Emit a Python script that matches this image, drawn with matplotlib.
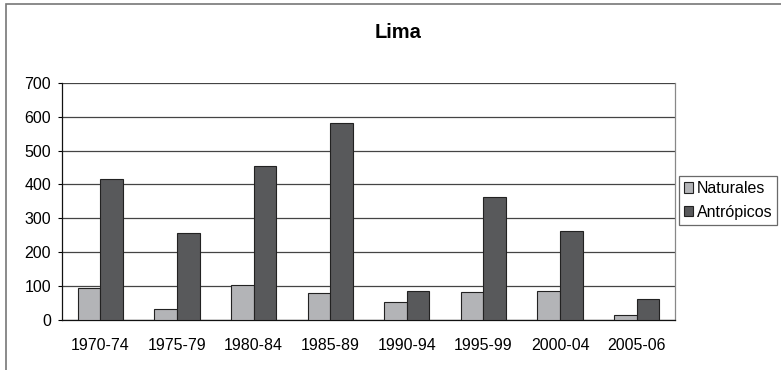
import matplotlib
matplotlib.use("Agg")
import matplotlib.pyplot as plt
from matplotlib.patches import Rectangle
import numpy as np

plt.rcParams['font.family'] = ['Liberation Sans', 'DejaVu Sans']

categories = ["1970-74", "1975-79", "1980-84", "1985-89", "1990-94", "1995-99", "2000-04", "2005-06"]
naturales = [94, 31, 102, 80, 54, 84, 87, 15]
antropicos = [415, 257, 453, 581, 87, 363, 264, 61]
yticks = [0, 100, 200, 300, 400, 500, 600, 700]
title = "Lima"
series_names = ["Naturales", "Antrópicos"]

fig = plt.figure(figsize=(7.81, 3.70), dpi=100)
ax = fig.add_axes([62/781, 50/370, (675-62)/781, (320-82.7)/370])

x = np.arange(len(categories))
w = 0.295
ax.bar(x - w/2, naturales, w, color='#b3b4b7', edgecolor='#222222', linewidth=0.8,
       label=series_names[0], zorder=3)
ax.bar(x + w/2, antropicos, w, color='#58595b', edgecolor='#222222', linewidth=0.8,
       label=series_names[1], zorder=3)

ax.set_xlim(-0.5, len(categories) - 0.5)
ax.set_ylim(0, 700)
ax.set_yticks(yticks)
ax.set_xticks(x)
ax.set_xticklabels(categories)
ax.tick_params(axis='y', length=3, width=0.8, pad=5, labelsize=11.5)
ax.tick_params(axis='x', length=0, pad=13, labelsize=11.5)
ax.yaxis.grid(True, color='#444444', linewidth=0.9, zorder=0)
ax.set_axisbelow(True)
ax.spines['top'].set_visible(False)
ax.spines['right'].set_color('#888888')
ax.spines['right'].set_linewidth(0.9)
ax.spines['left'].set_color('#111111')
ax.spines['left'].set_linewidth(0.9)
ax.spines['bottom'].set_color('#111111')
ax.spines['bottom'].set_linewidth(0.9)

fig.text(398/781, 1 - 33/370, title, ha='center', va='center', fontsize=14.5, fontweight='bold')

leg = ax.legend(loc='center left', bbox_to_anchor=(679/781, 1 - 228/370, 110/781, 55/370),
                bbox_transform=fig.transFigure, frameon=True, fancybox=False,
                fontsize=11.5, handlelength=0.6, handleheight=0.6, handletextpad=0.2,
                borderpad=0.3, labelspacing=0.55, borderaxespad=0)
leg.get_frame().set_edgecolor('#444444')
leg.get_frame().set_linewidth(0.9)

fig.patches.append(Rectangle((6/781, -0.1), 1.2, 1 - 4/370 + 0.1, transform=fig.transFigure,
                             fill=False, edgecolor='#777777', linewidth=1.2))

fig.savefig("out.png", dpi=100)
